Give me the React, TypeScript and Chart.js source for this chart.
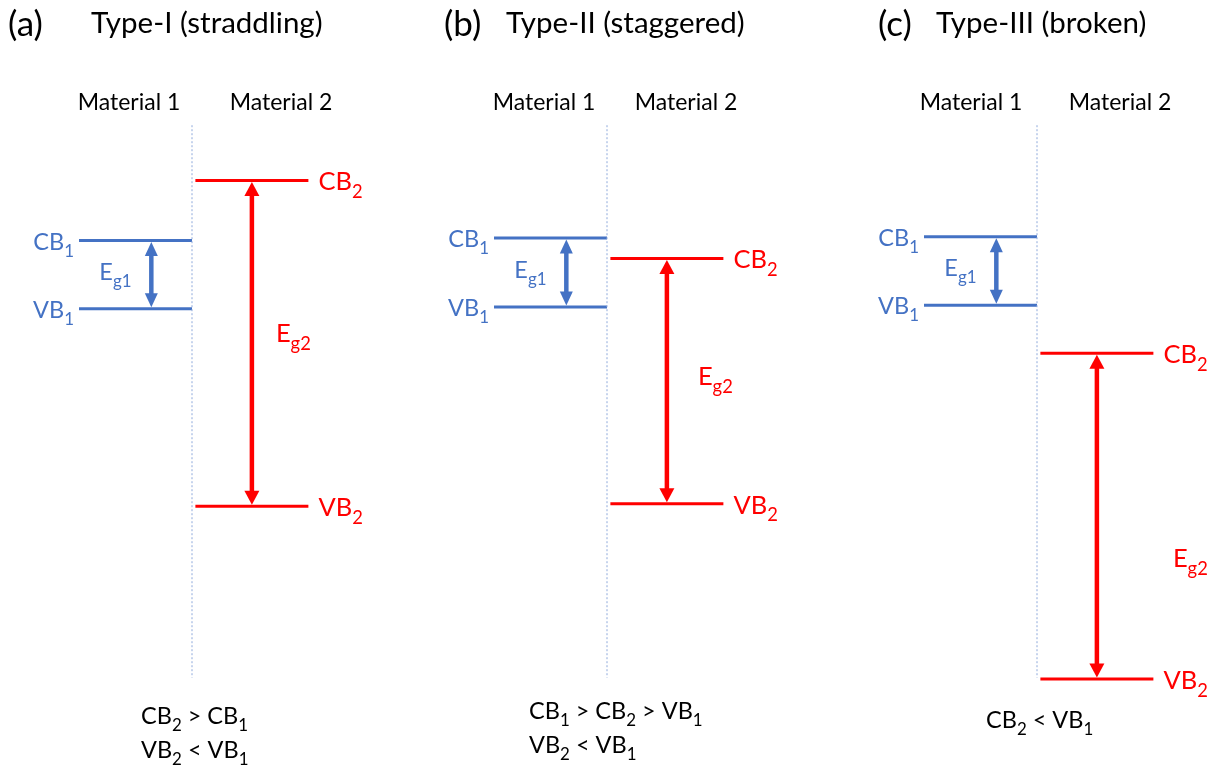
import React, { useEffect, useRef } from "react";
import { Chart, registerables } from "chart.js";

Chart.register(...registerables);

// ---- data -------------------------------------------------------------
const panelTags = ["(a)", "(b)", "(c)"];
const panelTitles = ["Type-I (straddling)", "Type-II (staggered)", "Type-III (broken)"];
const materialNames = ["Material 1", "Material 2"];

// band edges on a common arbitrary energy axis (higher = further up)
const cb1 = [7.66, 7.7, 7.72];
const vb1 = [6.52, 6.55, 6.58];
const cb2 = [8.66, 7.36, 5.78];
const vb2 = [3.23, 3.27, 0.35];

const levelNames1 = ["CB_1", "VB_1"];
const levelNames2 = ["CB_2", "VB_2"];
const gapNames = ["E_g1", "E_g2"];

const relations = [
  ["CB_2 > CB_1", "VB_2 < VB_1"],
  ["CB_1 > CB_2 > VB_1", "VB_2 < VB_1"],
  ["CB_2 < VB_1"],
];

// ---- styling / layout ---------------------------------------------------
const BLUE = "#4472C4";
const RED = "#FF0000";
const GUIDE = "#8FAADC";
const INK = "#000000";
const FONT = "Lato, 'Open Sans', sans-serif";

const CANVAS_W = 400;
const CANVAS_H = 770;
const canvasLeft = [-8, 407, 837];

const MAT1_SPAN = [-1, 0];
const MAT2_SPAN = [0.03, 1.03];
const ARROW1_X = -0.36;
const ARROW2_X = 0.53;
const INTERFACE_SPAN = [9.58, 0.37];

const tagDx = [-184, -163, -159];
const titleDx = -101;
const mat1Dx = [-63, -63, -66];
const mat2Dx = [89, 79, 83];
const eg2Dx = [24, 31, 76];
const eg2Dy = [-10, -5, 42];
const relDx = [-51, -78, -51];
const relBase = [724, 719, 728];

const TAG_SIZE = 35;
const TITLE_SIZE = 29.5;
const MAT_SIZE = 23;
const BLUE_SIZE = 23.5;
const RED_SIZE = 25.5;
const REL_SIZE = 23.5;

type Seg = { t: string; sub: boolean };

function parseRich(text: string): Seg[] {
  const segs: Seg[] = [];
  const re = /_([A-Za-z0-9]+)/g;
  let last = 0;
  let m: RegExpExecArray | null;
  while ((m = re.exec(text))) {
    if (m.index > last) segs.push({ t: text.slice(last, m.index), sub: false });
    segs.push({ t: m[1], sub: true });
    last = m.index + m[0].length;
  }
  if (last < text.length) segs.push({ t: text.slice(last), sub: false });
  return segs;
}

function drawRich(
  ctx: CanvasRenderingContext2D,
  text: string,
  x: number,
  y: number,
  size: number,
  color: string,
  align: "left" | "right" | "center"
) {
  const segs = parseRich(text);
  const subSize = size * 0.72;
  const widths = segs.map((s) => {
    ctx.font = `${s.sub ? subSize : size}px ${FONT}`;
    return ctx.measureText(s.t).width;
  });
  const total = widths.reduce((a, b) => a + b, 0);
  let cx = align === "left" ? x : align === "right" ? x - total : x - total / 2;
  ctx.fillStyle = color;
  ctx.textAlign = "left";
  ctx.textBaseline = "alphabetic";
  segs.forEach((s, k) => {
    ctx.font = `${s.sub ? subSize : size}px ${FONT}`;
    ctx.fillText(s.t, cx, s.sub ? y + size * 0.3 : y);
    cx += widths[k];
  });
}

function drawDoubleArrow(
  ctx: CanvasRenderingContext2D,
  x: number,
  yTop: number,
  yBot: number,
  color: string,
  headW: number,
  headL: number,
  shaftW: number
) {
  ctx.save();
  ctx.strokeStyle = color;
  ctx.fillStyle = color;
  ctx.lineWidth = shaftW;
  ctx.beginPath();
  ctx.moveTo(x, yTop + headL - 1);
  ctx.lineTo(x, yBot - headL + 1);
  ctx.stroke();
  ctx.beginPath();
  ctx.moveTo(x, yTop);
  ctx.lineTo(x - headW / 2, yTop + headL);
  ctx.lineTo(x + headW / 2, yTop + headL);
  ctx.closePath();
  ctx.fill();
  ctx.beginPath();
  ctx.moveTo(x, yBot);
  ctx.lineTo(x - headW / 2, yBot - headL);
  ctx.lineTo(x + headW / 2, yBot - headL);
  ctx.closePath();
  ctx.fill();
  ctx.restore();
}

const bandDiagramPlugin = {
  id: "bandDiagram",
  afterDatasetsDraw(chart: any, _args: any, opts: any) {
    const i: number = opts.panel;
    const ctx: CanvasRenderingContext2D = chart.ctx;
    const xs = chart.scales.x;
    const ys = chart.scales.y;
    const x0 = xs.getPixelForValue(0);

    const yCb1 = ys.getPixelForValue(cb1[i]);
    const yVb1 = ys.getPixelForValue(vb1[i]);
    const yCb2 = ys.getPixelForValue(cb2[i]);
    const yVb2 = ys.getPixelForValue(vb2[i]);

    // band-gap arrows
    const ax1 = xs.getPixelForValue(ARROW1_X);
    const ax2 = xs.getPixelForValue(ARROW2_X);
    drawDoubleArrow(ctx, ax1, yCb1 + 1.5, yVb1 - 1.5, BLUE, 13, 14, 4.5);
    drawDoubleArrow(ctx, ax2, yCb2 + 1.5, yVb2 - 1.5, RED, 15, 14, 4.5);

    ctx.save();
    // headings
    drawRich(ctx, panelTags[i], x0 + tagDx[i], 36, TAG_SIZE, INK, "left");
    drawRich(ctx, panelTitles[i], x0 + titleDx, 33, TITLE_SIZE, INK, "left");
    drawRich(ctx, materialNames[0], x0 + mat1Dx[i], 110, MAT_SIZE, INK, "center");
    drawRich(ctx, materialNames[1], x0 + mat2Dx[i], 110, MAT_SIZE, INK, "center");

    // level labels
    const bcap = BLUE_SIZE * 0.7;
    const rcap = RED_SIZE * 0.7;
    const m1Left = xs.getPixelForValue(MAT1_SPAN[0]);
    const m2Right = xs.getPixelForValue(MAT2_SPAN[1]);
    drawRich(ctx, levelNames1[0], m1Left - 5, yCb1 + bcap / 2 + 1, BLUE_SIZE, BLUE, "right");
    drawRich(ctx, levelNames1[1], m1Left - 5, yVb1 + bcap / 2 + 1, BLUE_SIZE, BLUE, "right");
    drawRich(ctx, levelNames2[0], m2Right + 10, yCb2 + rcap / 2 + 1, RED_SIZE, RED, "left");
    drawRich(ctx, levelNames2[1], m2Right + 10, yVb2 + rcap / 2 + 1, RED_SIZE, RED, "left");

    // gap labels
    drawRich(ctx, gapNames[0], ax1 - 52, (yCb1 + yVb1) / 2 + bcap / 2 - 3, BLUE_SIZE, BLUE, "left");
    drawRich(ctx, gapNames[1], ax2 + eg2Dx[i], (yCb2 + yVb2) / 2 + rcap / 2 + eg2Dy[i], RED_SIZE, RED, "left");

    // relations underneath
    relations[i].forEach((line, k) => {
      drawRich(ctx, line, x0 + relDx[i], relBase[i] + k * 34, REL_SIZE, INK, "left");
    });
    ctx.restore();
  },
};

function levelSet(span: number[], value: number, color: string) {
  return {
    data: [
      { x: span[0], y: value },
      { x: span[1], y: value },
    ],
    borderColor: color,
    backgroundColor: color,
    borderWidth: 3,
    borderCapStyle: "butt" as const,
    pointRadius: 0,
    showLine: true,
  };
}

function BandPanel({ index }: { index: number }) {
  const ref = useRef<HTMLCanvasElement>(null);

  useEffect(() => {
    if (!ref.current) return;
    const chart = new Chart(ref.current, {
      type: "scatter",
      data: {
        datasets: [
          {
            data: [
              { x: 0, y: INTERFACE_SPAN[0] },
              { x: 0, y: INTERFACE_SPAN[1] },
            ],
            borderColor: GUIDE,
            borderWidth: 1,
            borderDash: [2, 2],
            pointRadius: 0,
            showLine: true,
          },
          levelSet(MAT1_SPAN, cb1[index], BLUE),
          levelSet(MAT1_SPAN, vb1[index], BLUE),
          levelSet(MAT2_SPAN, cb2[index], RED),
          levelSet(MAT2_SPAN, vb2[index], RED),
        ],
      },
      options: {
        responsive: false,
        animation: false,
        devicePixelRatio: 1,
        layout: { padding: { top: 100, bottom: 70, left: 0, right: 0 } },
        scales: {
          x: { type: "linear", min: -1.77, max: 1.77, display: false },
          y: { type: "linear", min: 0, max: 10, display: false },
        },
        plugins: {
          legend: { display: false },
          tooltip: { enabled: false },
          bandDiagram: { panel: index },
        } as any,
      },
      plugins: [bandDiagramPlugin],
    });
    return () => chart.destroy();
  }, [index]);

  return (
    <canvas
      ref={ref}
      width={CANVAS_W}
      height={CANVAS_H}
      style={{
        position: "absolute",
        left: canvasLeft[index],
        top: 0,
        width: CANVAS_W,
        height: CANVAS_H,
      }}
    />
  );
}

export default function App() {
  return (
    <div
      style={{
        position: "fixed",
        left: 0,
        top: 0,
        width: 1212,
        height: 770,
        background: "#ffffff",
        overflow: "hidden",
      }}
    >
      {panelTags.map((_, i) => (
        <BandPanel key={i} index={i} />
      ))}
    </div>
  );
}
